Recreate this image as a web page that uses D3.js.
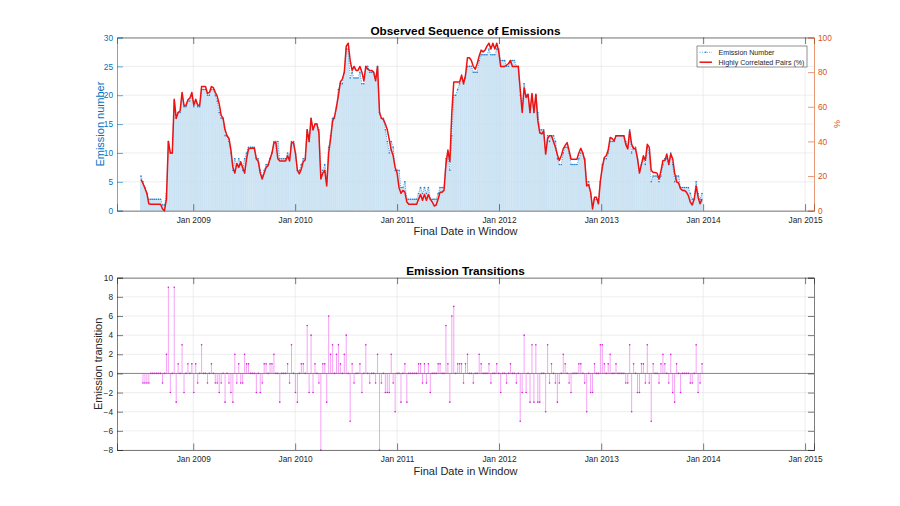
<!DOCTYPE html>
<html><head><meta charset="utf-8">
<script src="https://cdn.jsdelivr.net/npm/d3@7"></script>
<style>
html,body{margin:0;padding:0;background:#fff;}
svg{display:block;font-family:"Liberation Sans",Arial,Helvetica,sans-serif;}
</style></head>
<body>
<svg id="chart" width="900" height="506"></svg>
<script>
// ---------- data ----------
const startDate = "2008-06-28";   // first window end date (weekly steps)
const stepDays = 7;

const emissionNumber = [
 6,5,4,3,2,2,2,2,2,2,
 2,1,1,3,12,10,10,19,16,17,
 17,20,18,18,19,19,20,18,19,18,
 18,21,21,21,20,20,21,21,20,19,
 17,16,16,13,13,12,10,7,9,8,
 9,8,7,9,10,11,11,11,11,9,
 9,7,6,7,8,8,9,10,12,12,
 12,9,9,9,9,10,9,12,12,10,
 7,7,8,9,9,14,12,16,14,15,
 15,14,6,7,8,5,11,13,16,16,
 18,21,22,22,24,28,28,23,24,23,
 23,23,24,22,22,25,25,24,24,24,
 23,25,17,16,16,14,12,10,12,11,
 7,7,7,4,4,5,2,2,2,2,
 2,2,3,4,3,4,3,4,2,2,
 2,2,3,4,4,4,9,10,7,13,
 20,20,21,22,23,22,23,25,25,25,
 24,24,24,26,27,27,27,27,28,27,
 27,27,28,28,26,26,26,25,25,26,
 26,26,25,25,20,18,22,20,20,17,
 20,17,20,17,14,14,14,10,13,12,
 13,13,12,9,8,8,10,11,11,10,
 8,8,8,8,9,10,10,9,5,5,
 3,1,2,2,2,5,8,9,9,10,
 12,12,12,13,13,13,13,13,12,11,
 14,10,11,11,9,7,8,9,8,11,
 10,5,6,6,6,5,6,8,9,9,
 8,10,8,5,6,6,4,4,4,4,
 4,3,2,2,5,3,2,3];

const correlatedPct = [
 18,15.7,13,10,4,3.7,3.7,3.7,3.7,3.7,
 3.7,1,0,6.7,40,33.3,33.3,64.3,53.3,56.7,
 57.7,68.3,60.7,60.7,64,65,68.3,61,64.3,61,
 60.7,71.7,71.7,71.7,67.7,68.3,71.7,71,68.3,66,
 61.7,55,53.3,46.7,43.3,41.7,35,25,21.7,27.3,
 25,28.3,25,21.7,30,35.7,36,36,36,30,
 28.3,21.7,18.3,21.7,25,26,30,33.3,39.3,39.3,
 30,28.7,28.7,28.7,28.7,31.7,28.7,39.3,39.3,33.3,
 23.3,21.3,24,28.3,29.3,46.7,40,53.3,46.7,50,
 50,45,18.3,21.7,23.3,14.3,33.3,41.7,51.7,54.3,
 60,66.7,74.3,76,80,95,96.7,86.7,81,83.3,
 81,81,83.3,80,75,83.3,81.7,81,81,80,
 75,83.3,56.7,53.3,52.7,50,46.7,41,35,31.7,
 25,21.7,13.3,10,11.7,10.7,5,3.7,3.7,3.7,
 3.7,3.7,6.7,9.3,6,9.3,6,9.3,6.7,5,
 2.7,3.3,6.7,10.7,10.7,11.7,26.7,35,28.3,56.7,
 74.3,74.3,74.3,74.3,78.3,73.3,78.3,88.3,88.3,86.7,
 83.3,81.7,85,89.3,92.7,91.7,92.7,95,96.7,93.3,
 96.7,93.3,96.7,91.7,83.3,83.3,83.3,84,85,86.7,
 83.3,83.3,83.3,83.3,70,56.7,71,65.3,67.3,56.7,
 67.7,56.7,67.3,52,45,44.3,46,32.7,41.7,43.3,
 43.3,40,36.7,32.3,29,31.7,35.7,37.7,39.3,34.7,
 29.7,29.7,29.7,29.7,33.3,36,33.3,29,14.3,15,
 10.7,1,7.7,7.7,4,17.3,25,30.7,31.7,35,
 42.3,41.7,40.3,43.3,43.3,43.3,43.3,43.3,38.3,35.7,
 46,38.3,35.7,35.7,30,21.7,26.7,31.7,29,38.3,
 36.7,23.3,22,22,21.7,18.3,23,29,29,32.7,
 26.7,32.7,30,21.7,16.7,16,12.7,11.7,11.7,10.7,
 8.7,5,3.3,6.7,14.3,7.7,4,6.7];

// transitions: change in emission number, from the 2nd window on
const transitions = [
 -1,-1,-1,-1,0,0,0,0,0,
 0,-1,0,2,9,-2,0,9,-3,1,
 0,3,-2,0,1,0,1,-2,1,-1,
 0,3,0,0,-1,0,1,0,-1,-1,
 -2,-1,0,-3,0,-1,-2,-3,2,-1,
 1,-1,-1,2,1,1,0,0,0,-2,
 0,-2,-1,1,1,0,1,1,2,0,
 0,-3,0,0,0,1,-1,3,0,-2,
 -3,0,1,1,0,5,-2,4,-2,1,
 0,-1,-8,1,1,-3,6,2,3,0,
 2,3,1,0,2,4,0,-5,1,-1,
 0,0,1,-2,0,3,0,-1,0,0,
 -1,2,-8,-1,0,-2,-2,-2,2,-1,
 -4,0,0,-3,0,1,-3,0,0,0,
 0,0,1,1,-1,1,-1,1,-2,0,
 0,0,1,1,0,0,5,1,-3,6,
 7,0,1,1,1,-1,1,2,0,0,
 -1,0,0,2,1,0,0,0,1,-1,
 0,0,1,0,-2,0,0,-1,0,1,
 0,0,-1,0,-5,-2,4,-2,0,-3,
 3,-3,3,-3,-3,0,0,-4,3,-1,
 1,0,-1,-3,-1,0,2,1,0,-1,
 -2,0,0,0,1,1,0,-1,-4,0,
 -2,-2,1,0,0,3,3,1,0,1,
 2,0,0,1,0,0,0,0,-1,-1,
 3,-4,1,0,-2,-2,1,1,-1,3,
 -1,-5,1,0,0,-1,1,2,1,0,
 -1,2,-2,-3,1,0,-2,0,0,0,
 0,-1,-1,0,3,-2,-1,1];

const xDomain = ["2008-04-03", "2015-02-02"];
const xTickLabels = ["Jan 2009","Jan 2010","Jan 2011","Jan 2012","Jan 2013","Jan 2014","Jan 2015"];
const xTickDates = ["2009-01-01","2010-01-01","2011-01-01","2012-01-01","2013-01-01","2014-01-01","2015-01-01"];
const leftTicks = [0,5,10,15,20,25,30];
const rightTicks = [0,20,40,60,80,100];
const bottomTicks = [-8,-6,-4,-2,0,2,4,6,8,10];
const legendLabels = ["Emission Number","Highly Correlated Pairs (%)"];

// ---------- setup ----------
const parse = d3.utcParse("%Y-%m-%d");
const t0 = parse(startDate);
const dates = emissionNumber.map((_, i) => d3.utcDay.offset(t0, i * stepDays));
const tickDates = xTickDates.map(parse);

const svg = d3.select("#chart");
const L = 117, R = 814;
const top1 = 37.5, bot1 = 210.7;
const top2 = 277.7, bot2 = 450;
const BLUE = "#0072BD", ORANGE = "#D95319", DARK = "#262626", GRID = "#e3e3e3";
const tickFont = 8.3;

const x = d3.scaleUtc().domain(xDomain.map(parse)).range([L, R]);
const yL = d3.scaleLinear().domain([0, 30]).range([bot1, top1]);
const yR = d3.scaleLinear().domain([0, 100]).range([bot1, top1]);
const yB = d3.scaleLinear().domain([-8, 10]).range([bot2, top2]);

function grid(g, yScale, yTicks, top, bot) {
  g.selectAll(".gx").data(tickDates).join("line")
    .attr("x1", d => x(d)).attr("x2", d => x(d)).attr("y1", top).attr("y2", bot)
    .attr("stroke", GRID).attr("stroke-width", 0.6);
  g.selectAll(".gy").data(yTicks).join("line")
    .attr("x1", L).attr("x2", R).attr("y1", d => yScale(d)).attr("y2", d => yScale(d))
    .attr("stroke", GRID).attr("stroke-width", 0.6);
}

function xAxes(top, bot) {
  const ab = svg.append("g").attr("transform", `translate(0,${bot})`)
    .call(d3.axisBottom(x).tickValues(tickDates).tickSize(-6.5).tickPadding(6)
      .tickFormat((d, i) => xTickLabels[i]));
  ab.select(".domain").attr("stroke", DARK).attr("stroke-width", 0.6);
  ab.selectAll(".tick line").attr("stroke", DARK).attr("stroke-width", 0.6);
  ab.selectAll("text").attr("fill", DARK).style("font-size", tickFont + "px").attr("font-family", null);
  const at = svg.append("g").attr("transform", `translate(0,${top})`)
    .call(d3.axisTop(x).tickValues(tickDates).tickSize(-6.5).tickFormat(""));
  at.select(".domain").attr("stroke", DARK).attr("stroke-width", 0.6);
  at.selectAll(".tick line").attr("stroke", DARK).attr("stroke-width", 0.6);
}

function yAxis(scale, ticks, side, color, showLabels) {
  const ax = side === "left" ? d3.axisLeft(scale) : d3.axisRight(scale);
  ax.tickValues(ticks).tickSize(-6).tickPadding(4);
  if (!showLabels) ax.tickFormat("");
  const g = svg.append("g").attr("transform", `translate(${side === "left" ? L : R},0)`).call(ax);
  g.select(".domain").attr("stroke", color).attr("stroke-width", 0.6);
  g.selectAll(".tick line").attr("stroke", color).attr("stroke-width", 0.6);
  g.selectAll("text").attr("fill", color).style("font-size", tickFont + "px").attr("font-family", null);
  return g;
}

// ---------- top chart ----------
const g1 = svg.append("g");
grid(g1, yL, leftTicks, top1, bot1);

const step = x(dates[1]) - x(dates[0]);
const bw = step * 0.75;
g1.append("g").selectAll("rect").data(emissionNumber).join("rect")
  .attr("x", (d, i) => x(dates[i]) - bw / 2)
  .attr("width", bw)
  .attr("y", d => yL(d))
  .attr("height", d => yL(0) - yL(d))
  .attr("fill", "#d3e7f5")
  .attr("stroke", "#a9cfec").attr("stroke-width", 0.3);

const blueLine = d3.line().x((d, i) => x(dates[i])).y(d => yL(d));
g1.append("path").datum(emissionNumber).attr("d", blueLine)
  .attr("fill", "none").attr("stroke", "#2a8ad4").attr("stroke-width", 0.8)
  .attr("stroke-dasharray", "1,1.4");
g1.append("g").selectAll("circle").data(emissionNumber).join("circle")
  .attr("cx", (d, i) => x(dates[i])).attr("cy", d => yL(d)).attr("r", 0.75)
  .attr("fill", "#1f7fcc");

const redLine = d3.line().x((d, i) => x(dates[i])).y(d => yR(d));
g1.append("path").datum(correlatedPct).attr("d", redLine)
  .attr("fill", "none").attr("stroke", "#ee1111").attr("stroke-width", 1.5)
  .attr("stroke-linejoin", "round");

xAxes(top1, bot1);
yAxis(yL, leftTicks, "left", BLUE, true);
yAxis(yR, rightTicks, "right", ORANGE, true);

svg.append("text").attr("x", (L + R) / 2).attr("y", 34.5).attr("text-anchor", "middle")
  .attr("font-weight", "bold").attr("font-size", 11.8).attr("fill", "#000")
  .text("Observed Sequence of Emissions");
svg.append("text").attr("x", (L + R) / 2).attr("y", 234.5).attr("text-anchor", "middle")
  .attr("font-size", 11).attr("fill", DARK).text("Final Date in Window");
svg.append("text").attr("transform", `translate(103.5,${(top1 + bot1) / 2}) rotate(-90)`)
  .attr("text-anchor", "middle").attr("font-size", 11).attr("fill", BLUE).text("Emission number");
svg.append("text").attr("transform", `translate(834,${(top1 + bot1) / 2}) rotate(90)`)
  .attr("text-anchor", "middle").attr("font-size", 9).attr("fill", ORANGE).text("%");

// legend
const lg = svg.append("g");
lg.append("rect").attr("x", 697).attr("y", 46).attr("width", 110).attr("height", 21)
  .attr("fill", "#fff").attr("stroke", DARK).attr("stroke-width", 0.5);
lg.append("line").attr("x1", 699.5).attr("x2", 712).attr("y1", 52.3).attr("y2", 52.3)
  .attr("stroke", "#2a8ad4").attr("stroke-width", 0.8).attr("stroke-dasharray", "1,1.4");
lg.append("circle").attr("cx", 705.7).attr("cy", 52.3).attr("r", 0.8).attr("fill", "#1f7fcc");
lg.append("line").attr("x1", 699.5).attr("x2", 712).attr("y1", 62.2).attr("y2", 62.2)
  .attr("stroke", "#ee1111").attr("stroke-width", 1.5);
lg.selectAll("text.lt").data(legendLabels).join("text")
  .attr("x", 718.5).attr("y", (d, i) => 54.8 + i * 9.9)
  .attr("font-size", 7.1).attr("fill", DARK).text(d => d);

// ---------- bottom chart ----------
const g2 = svg.append("g");
grid(g2, yB, bottomTicks, top2, bot2);
const tDates = dates.slice(1);
g2.append("g").selectAll("line").data(transitions).join("line")
  .attr("x1", (d, i) => x(tDates[i])).attr("x2", (d, i) => x(tDates[i]))
  .attr("y1", yB(0)).attr("y2", d => yB(d))
  .attr("stroke", "#f28bf2").attr("stroke-width", 0.8);
g2.append("line").attr("x1", L).attr("x2", R).attr("y1", yB(0)).attr("y2", yB(0))
  .attr("stroke", "#6b6b6b").attr("stroke-width", 0.8);
g2.append("g").selectAll("circle").data(transitions).join("circle")
  .attr("cx", (d, i) => x(tDates[i])).attr("cy", d => yB(d)).attr("r", 0.8)
  .attr("fill", "#d61ad6");

xAxes(top2, bot2);
yAxis(yB, bottomTicks, "left", DARK, true);
yAxis(yB, bottomTicks, "right", DARK, false);

svg.append("text").attr("x", (L + R) / 2).attr("y", 274.5).attr("text-anchor", "middle")
  .attr("font-weight", "bold").attr("font-size", 11.8).attr("fill", "#000")
  .text("Emission Transitions");
svg.append("text").attr("x", (L + R) / 2).attr("y", 474.5).attr("text-anchor", "middle")
  .attr("font-size", 11).attr("fill", DARK).text("Final Date in Window");
svg.append("text").attr("transform", `translate(101.5,${(top2 + bot2) / 2}) rotate(-90)`)
  .attr("text-anchor", "middle").attr("font-size", 11).attr("fill", DARK).text("Emission transition");
</script>
</body></html>
